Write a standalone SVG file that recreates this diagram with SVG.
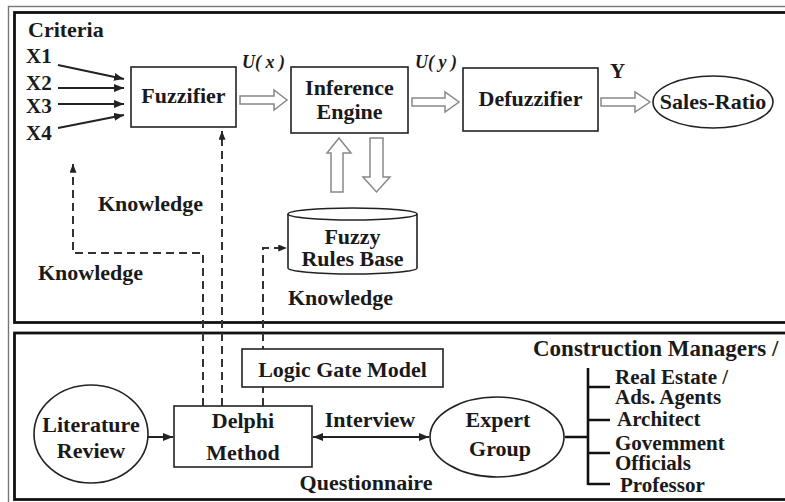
<svg xmlns="http://www.w3.org/2000/svg" width="785" height="502" viewBox="0 0 785 502">
  <style>
    text { font-family: "Liberation Serif", "Times New Roman", serif; font-weight: bold; fill: #1a1a1a; }
    .lbl { font-size: 22px; }
    .list { font-size: 21px; }
    .mid { text-anchor: middle; }
    .small { font-size: 21px; }
    .ital { font-style: italic; font-size: 18px; }
    .box { fill: #ffffff; stroke: #222; stroke-width: 1.6; }
    .oval { fill: #ffffff; stroke: #222; stroke-width: 1.6; }
    .frame { fill: none; stroke: #111; stroke-width: 2.8; }
    .frame-thin { fill: none; stroke: #777; stroke-width: 1.4; }
    .solid { fill: none; stroke: #222; stroke-width: 2; }
    .dash { fill: none; stroke: #333; stroke-width: 2; stroke-dasharray: 8 5; }
    .hollow { fill: #ffffff; stroke: #888; stroke-width: 1.5; stroke-linejoin: miter; }
    .tree { fill: none; stroke: #111; stroke-width: 2.6; }
  </style>
  <defs>
    <marker id="head" viewBox="0 0 10 8" refX="10" refY="4" markerWidth="10" markerHeight="8" markerUnits="userSpaceOnUse" orient="auto-start-reverse">
      <path d="M0,0 L10,4 L0,8 Z" fill="#222"/>
    </marker>
    <marker id="headSmall" viewBox="0 0 10 8" refX="10" refY="4" markerWidth="9" markerHeight="7" markerUnits="userSpaceOnUse" orient="auto">
      <path d="M0,0 L10,4 L0,8 Z" fill="#222"/>
    </marker>
  </defs>

  <rect width="785" height="502" fill="#ffffff"/>

  <!-- panel frames -->
  <g id="frames">
    <rect class="frame-thin" x="8.5" y="6.5" width="790" height="510"/>
    <rect class="frame" x="14.5" y="12.5" width="780" height="310"/>
    <rect class="frame" x="14.5" y="333" width="780" height="166.5"/>
  </g>

  <!-- connectors -->
  <g id="connectors">
    <line class="solid" x1="58" y1="65" x2="124" y2="79" marker-end="url(#head)"/>
    <line class="solid" x1="58" y1="88" x2="124" y2="88" marker-end="url(#head)"/>
    <line class="solid" x1="58" y1="104" x2="124" y2="104" marker-end="url(#head)"/>
    <line class="solid" x1="58" y1="128" x2="124" y2="115" marker-end="url(#head)"/>

    <!-- hollow flow arrows -->
    <polygon class="hollow" points="240,96 274,96 274,90 287,100 274,110 274,104 240,104"/>
    <polygon class="hollow" points="412,98 445,98 445,92 459,102 445,112 445,106 412,106"/>
    <polygon class="hollow" points="601,98 635,98 635,92 650,102 635,112 635,106 601,106"/>
    <polygon class="hollow" points="331,192 331,153 327,153 339,138 351,153 343,153 343,192"/>
    <polygon class="hollow" points="370,138 383,138 383,177 390,177 376.5,192 363,177 370,177"/>

    <!-- knowledge flows -->
    <line class="dash" x1="222" y1="406" x2="222" y2="131" marker-end="url(#headSmall)"/>
    <polyline class="dash" points="203,406 203,253 73,253 73,164" marker-end="url(#headSmall)"/>
    <polyline class="dash" points="263,406 263,248 287,248" marker-end="url(#headSmall)"/>

    <!-- lower panel -->
    <line class="solid" x1="148" y1="437" x2="173" y2="437" marker-end="url(#head)"/>
    <line class="solid" x1="313" y1="437" x2="429" y2="437" marker-start="url(#head)" marker-end="url(#head)"/>
    <path class="tree" d="M565,437 H588 M588,368 V485 M588,387 H610 M588,420 H610 M588,453 H610 M588,484 H610"/>
  </g>

  <!-- upper panel nodes -->
  <g id="criteria">
    <text class="lbl" x="28" y="37">Criteria</text>
    <text class="small" x="26" y="63">X1</text>
    <text class="small" x="26" y="90">X2</text>
    <text class="small" x="26" y="113">X3</text>
    <text class="small" x="26" y="140">X4</text>
  </g>
  <g id="fuzzifier">
    <rect class="box" x="131" y="67" width="105" height="60"/>
    <text class="lbl mid" x="183.5" y="103">Fuzzifier</text>
  </g>
  <g id="inference-engine">
    <rect class="box" x="291" y="67" width="117" height="66"/>
    <text class="lbl mid" x="349.5" y="95">Inference</text>
    <text class="lbl mid" x="349.5" y="119">Engine</text>
  </g>
  <g id="defuzzifier">
    <rect class="box" x="463" y="68" width="135" height="63"/>
    <text class="lbl mid" x="530.5" y="106">Defuzzifier</text>
  </g>
  <g id="sales-ratio">
    <ellipse class="oval" cx="713" cy="102" rx="60" ry="26"/>
    <text class="lbl mid" x="713" y="109">Sales-Ratio</text>
  </g>
  <g id="flow-labels">
    <text class="ital" x="242" y="68">U( x )</text>
    <text class="ital" x="415" y="68">U( y )</text>
    <text class="small" x="610" y="78">Y</text>
  </g>
  <g id="fuzzy-rules-base">
    <path class="box" d="M288,214 V268 A64.5,6 0 0 0 417,268 V214"/>
    <ellipse class="oval" cx="352.5" cy="214" rx="64.5" ry="6"/>
    <text class="lbl mid" x="352.5" y="244">Fuzzy</text>
    <text class="lbl mid" x="352.5" y="266">Rules Base</text>
  </g>
  <g id="knowledge-labels">
    <text class="lbl" x="98" y="211">Knowledge</text>
    <text class="lbl" x="38" y="280">Knowledge</text>
    <text class="lbl" x="288" y="305">Knowledge</text>
  </g>

  <!-- lower panel nodes -->
  <g id="logic-gate-model">
    <rect class="box" x="242" y="349" width="201" height="38"/>
    <text class="lbl mid" x="342.5" y="377">Logic Gate Model</text>
  </g>
  <g id="literature-review">
    <ellipse class="oval" cx="91" cy="434" rx="57" ry="49"/>
    <text class="lbl mid" x="91" y="432">Literature</text>
    <text class="lbl mid" x="91" y="458">Review</text>
  </g>
  <g id="delphi-method">
    <rect class="box" x="174" y="406" width="138" height="61"/>
    <text class="lbl mid" x="243" y="428">Delphi</text>
    <text class="lbl mid" x="243" y="460">Method</text>
  </g>
  <g id="expert-group">
    <ellipse class="oval" cx="497" cy="437" rx="67" ry="40"/>
    <text class="lbl mid" x="498" y="427">Expert</text>
    <text class="lbl mid" x="500" y="456">Group</text>
  </g>
  <g id="method-labels">
    <text class="lbl mid" x="370" y="427">Interview</text>
    <text class="lbl mid" x="366" y="490">Questionnaire</text>
  </g>
  <g id="expert-members">
    <text class="lbl" x="533" y="356" style="font-size:23px">Construction Managers /</text>
    <text class="list" x="615" y="384">Real Estate /</text>
    <text class="list" x="615" y="404">Ads. Agents</text>
    <text class="list" x="617" y="426">Architect</text>
    <text class="list" x="615" y="450">Govemment</text>
    <text class="list" x="615" y="470">Officials</text>
    <text class="list" x="620" y="492">Professor</text>
  </g>
</svg>
